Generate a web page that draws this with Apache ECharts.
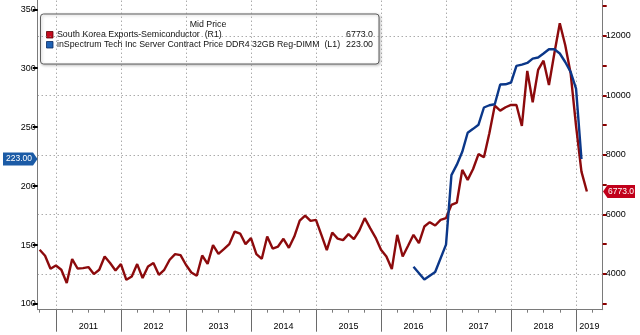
<!DOCTYPE html>
<html>
<head>
<meta charset="utf-8">
<script src="https://cdn.jsdelivr.net/npm/echarts@6/dist/echarts.min.js"></script>
<style>
  html, body { margin: 0; padding: 0; background: #fff; }
  #chart { width: 640px; height: 335px; }
</style>
</head>
<body>
<div id="chart"></div>
<script>
// South Korea semiconductor exports, monthly, USD mn (right axis), from Sep 2010
const exportStart = [2010, 9];
const exportValues = [
  4813, 4612, 4175, 4286,
  4142, 3695, 4501, 4185, 4199, 4232, 3997, 4142, 4588, 4367, 4118, 4333,
  3806, 3917, 4333, 3863, 4253, 4367, 3974, 4142, 4478, 4669, 4635, 4310,
  4051, 3940, 4622, 4343, 4971, 4679, 4836, 5004, 5428, 5361, 5004, 5206,
  4669, 4511, 5260, 4857, 4924, 5183, 4880, 5260, 5797, 5965, 5787, 5821,
  5317, 4803, 5394, 5190, 5139, 5341, 5173, 5462, 5878, 5542, 5226, 4813,
  4588, 4165, 5317, 4588, 4948, 5317, 5038, 5596, 5743, 5629, 5821, 5878,
  6324, 6402, 7500, 7164, 7530, 8030, 7926, 8732, 9660, 9491, 9605, 9683,
  9683, 8977, 10824, 9773, 10858, 11170, 10354, 11418, 12426, 11700, 10750, 8980,
  7443, 6773
];

// DDR4 32GB Reg-DIMM server contract price, USD (left axis)
const dramMonths = [
  '2016-06', '2016-08', '2016-10', '2016-12',
  '2017-01', '2017-02', '2017-03', '2017-04', '2017-05', '2017-06',
  '2017-07', '2017-08', '2017-09', '2017-10', '2017-11', '2017-12',
  '2018-01', '2018-02', '2018-03', '2018-04', '2018-05', '2018-06',
  '2018-07', '2018-08', '2018-09', '2018-10', '2018-11', '2018-12',
  '2019-01'
];
const dramValues = [
  131.6, 120.8, 127.1, 150.4,
  209.3, 218.2, 229.1, 245.3, 248.6, 252.1,
  266.7, 268.6, 269.5, 286.2, 286.4, 287.9,
  302.0, 303.1, 304.5, 308.2, 309.1, 312.5,
  316.1, 316.1, 312.5, 305.3, 296.9, 282.8,
  223.00
];

const leftTicks = [100, 150, 200, 250, 300, 350];
const rightTicks = [3000, 4000, 5000, 6000, 7000, 8000, 9000, 10000, 11000, 12000, 13000];
const rightLabels = [4000, 6000, 8000, 10000, 12000];
const years = [2011, 2012, 2013, 2014, 2015, 2016, 2017, 2018, 2019];

const legendTitle = 'Mid Price';
const exportName = 'South Korea Exports-Semiconductor  (R1)';
const dramName = 'inSpectrum Tech Inc Server Contract Price DDR4 32GB Reg-DIMM  (L1)';
const exportLast = '6773.0';
const dramLast = '223.00';

// month-end position on a fractional-year axis
function monthPos(y, m) { return y + m / 12; }

const exportData = exportValues.map((v, i) => {
  const idx = exportStart[1] - 1 + i;
  const y = exportStart[0] + Math.floor(idx / 12);
  const m = idx % 12 + 1;
  return [monthPos(y, m), v];
});
const dramData = dramMonths.map((s, i) => {
  const [y, m] = s.split('-').map(Number);
  return [monthPos(y, m), dramValues[i]];
});

const X_MIN = 2010.72, X_MAX = 2019.41;
const quarterTicks = [];
for (let q = 2010.75; q <= X_MAX + 1e-9; q += 0.25) quarterTicks.push(+q.toFixed(2));
const yearLabelPos = years.map(y => (y === 2019 ? 2019.205 : y + 0.5));

const FONT = 'Liberation Sans';
const TXT = '#000';
const AXIS = '#7a7a7a';
const gridDots = { type: [1, 3], color: '#858585', width: 1 };
const plain = v => String(v);
const tickText = { fontFamily: FONT, fontSize: 9, color: TXT };

const chart = echarts.init(document.getElementById('chart'), null, { renderer: 'canvas' });

chart.setOption({
  animation: false,
  backgroundColor: '#fff',
  grid: { left: 37.7, right: 37.3, top: 0, bottom: 25.3, containLabel: false },
  xAxis: [
    {
      type: 'value', min: X_MIN, max: X_MAX, position: 'bottom',
      axisLine: { show: true, lineStyle: { color: AXIS, width: 1 } },
      axisTick: { show: true, customValues: quarterTicks, length: 3, lineStyle: { color: AXIS } },
      axisLabel: { show: false },
      splitLine: { show: false }
    },
    {
      type: 'value', min: X_MIN, max: X_MAX, position: 'bottom',
      axisLine: { show: false },
      axisTick: { show: true, customValues: years, length: 22, lineStyle: { color: '#6a6a6a', width: 1 } },
      axisLabel: Object.assign({
        show: true, customValues: yearLabelPos, margin: 12,
        formatter: v => String(Math.floor(v))
      }, tickText),
      splitLine: { show: false }
    }
  ],
  yAxis: [
    {
      type: 'value', position: 'left', min: 95.16, max: 357.9,
      axisLine: { show: true, lineStyle: { color: AXIS, width: 1 } },
      axisTick: { show: true, customValues: leftTicks, length: 5, lineStyle: { color: '#000', width: 2 } },
      axisLabel: Object.assign({ show: true, customValues: leftTicks, margin: 2, formatter: plain }, tickText),
      splitLine: { show: false }
    },
    {
      type: 'value', position: 'right', min: 2800, max: 13210,
      axisLine: { show: true, lineStyle: { color: AXIS, width: 1 } },
      axisTick: { show: true, customValues: rightTicks, length: 4, lineStyle: { color: '#8b0000', width: 2 } },
      axisLabel: Object.assign({ show: true, customValues: rightLabels, margin: 3, formatter: plain }, tickText),
      splitLine: { show: false }
    }
  ],
  series: [
    {
      name: exportName, type: 'line', xAxisIndex: 0, yAxisIndex: 1,
      data: exportData, showSymbol: false, symbol: 'none',
      lineStyle: { color: '#8c0a0c', width: 2.4 },
      itemStyle: { color: '#8c0a0c' },
      z: 3,
      markLine: {
        silent: true, symbol: ['none', 'none'], z: 1, animation: false,
        label: { show: false }, lineStyle: gridDots,
        emphasis: { disabled: true },
        data: rightLabels.map(v => ({ yAxis: v })).concat(years.map(v => ({ xAxis: v })))
      }
    },
    {
      name: dramName, type: 'line', xAxisIndex: 0, yAxisIndex: 0,
      data: dramData, showSymbol: false, symbol: 'none',
      lineStyle: { color: '#0b3789', width: 2.4 },
      itemStyle: { color: '#0b3789' },
      z: 4
    }
  ]
});

// end-value tags on the axes and the legend box
const yB = chart.convertToPixel({ yAxisIndex: 0 }, dramValues[dramValues.length - 1]);
const yR = chart.convertToPixel({ yAxisIndex: 1 }, exportValues[exportValues.length - 1]);
const h = 6.5;
const tagFont = { fontFamily: FONT, fontSize: 8.5, fill: '#fff' };
const rowFont = { fontFamily: FONT, fontSize: 8.8, fill: '#111' };

chart.setOption({
  graphic: [
    {
      type: 'polygon', z: 20,
      shape: { points: [[3, yB - h], [33, yB - h], [37.5, yB], [33, yB + h], [3, yB + h]] },
      style: { fill: '#1b5ba6' }
    },
    {
      type: 'text', z: 21, x: 19, y: yB,
      style: Object.assign({ text: dramLast, align: 'center', verticalAlign: 'middle' }, tagFont)
    },
    {
      type: 'polygon', z: 20,
      shape: { points: [[603, yR], [607.5, yR - h], [635, yR - h], [635, yR + h], [607.5, yR + h]] },
      style: { fill: '#c1001b' }
    },
    {
      type: 'text', z: 21, x: 621, y: yR,
      style: Object.assign({ text: exportLast, align: 'center', verticalAlign: 'middle' }, tagFont)
    },
    {
      type: 'group', z: 30,
      children: [
        {
          type: 'rect',
          shape: { x: 40.5, y: 14, width: 338.5, height: 50, r: 3 },
          style: { fill: '#fff', stroke: '#5e5e5e', lineWidth: 1, shadowBlur: 3, shadowColor: 'rgba(0,0,0,0.25)', shadowOffsetX: 1, shadowOffsetY: 1 }
        },
        {
          type: 'text', x: 208, y: 25,
          style: Object.assign({ text: legendTitle, align: 'center', verticalAlign: 'middle' }, rowFont)
        },
        {
          type: 'rect', shape: { x: 46.5, y: 31.5, width: 6.5, height: 6.5 },
          style: { fill: '#c40a1e', stroke: '#5a0000', lineWidth: 0.8 }
        },
        {
          type: 'text', x: 57, y: 35,
          style: Object.assign({ text: exportName, align: 'left', verticalAlign: 'middle' }, rowFont)
        },
        {
          type: 'text', x: 373, y: 35,
          style: Object.assign({ text: exportLast, align: 'right', verticalAlign: 'middle' }, rowFont)
        },
        {
          type: 'rect', shape: { x: 46.5, y: 41.5, width: 6.5, height: 6.5 },
          style: { fill: '#1f62b4', stroke: '#0a2a60', lineWidth: 0.8 }
        },
        {
          type: 'text', x: 57, y: 45,
          style: Object.assign({ text: dramName, align: 'left', verticalAlign: 'middle' }, rowFont)
        },
        {
          type: 'text', x: 373, y: 45,
          style: Object.assign({ text: dramLast, align: 'right', verticalAlign: 'middle' }, rowFont)
        }
      ]
    }
  ]
});
</script>
</body>
</html>
